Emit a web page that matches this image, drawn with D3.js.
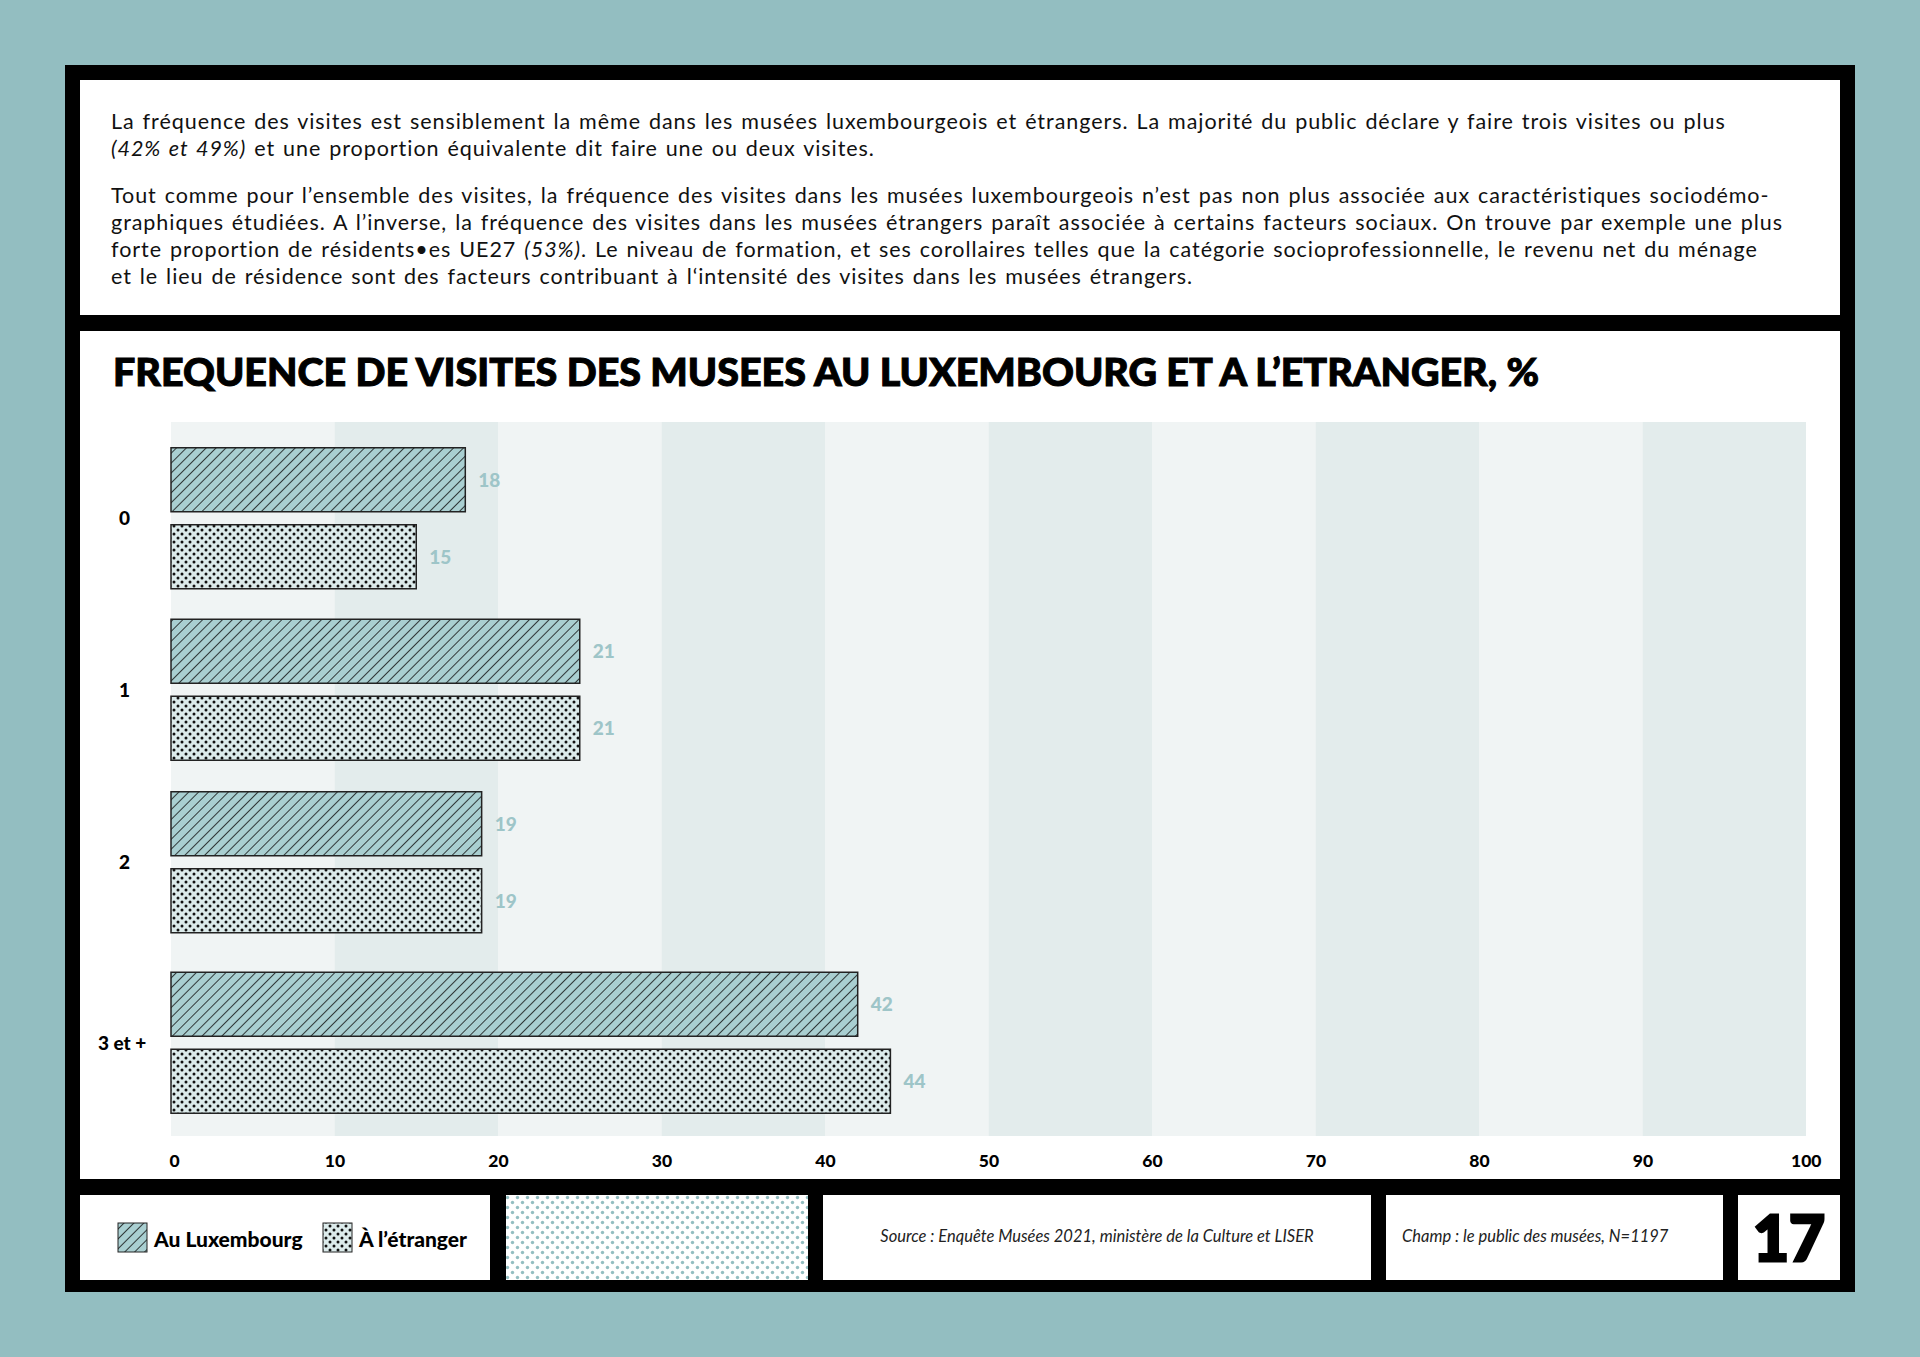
<!DOCTYPE html>
<html><head><meta charset="utf-8">
<script src="https://cdn.jsdelivr.net/npm/d3@7"></script>
<style>body{margin:0;background:#93bec1;}svg{display:block;font-family:Lato,"Open Sans",sans-serif;}</style>
</head><body><svg id="c" width="1920" height="1357"></svg>
<script>
const categories = ["0","1","2","3 et +"];
const series = ["Au Luxembourg","À l’étranger"];
const barLux = [18,25,19,42];      // bar lengths as drawn
const barEtr = [15,25,19,44];
const labelLux = [18,21,19,42];    // printed labels
const labelEtr = [15,21,19,44];
const ticks = [0,10,20,30,40,50,60,70,80,90,100];
const title = "FREQUENCE DE VISITES DES MUSEES AU LUXEMBOURG ET A L’ETRANGER, %";
const para = [
 ["La fréquence des visites est sensiblement la même dans les musées luxembourgeois et étrangers. La majorité du public déclare y faire trois visites ou plus",
  "<i>(42% et 49%)</i> et une proportion équivalente dit faire une ou deux visites."],
 ["Tout comme pour l’ensemble des visites, la fréquence des visites dans les musées luxembourgeois n’est pas non plus associée aux caractéristiques sociodémo-",
  "graphiques étudiées. A l’inverse, la fréquence des visites dans les musées étrangers paraît associée à certains facteurs sociaux. On trouve par exemple une plus",
  "forte proportion de résidents•es UE27 <i>(53%)</i>. Le niveau de formation, et ses corollaires telles que la catégorie socioprofessionnelle, le revenu net du ménage",
  "et le lieu de résidence sont des facteurs contribuant à l‘intensité des visites dans les musées étrangers."]
];
const svg = d3.select("#c");
const defs = svg.append("defs");
const hatch = defs.append("pattern").attr("id","hatch").attr("patternUnits","userSpaceOnUse").attr("width",7).attr("height",7).attr("patternTransform","rotate(45)");
hatch.append("rect").attr("width",7).attr("height",7).attr("fill","#a9cfd1");
hatch.append("line").attr("x1",0).attr("y1",0).attr("x2",0).attr("y2",7).attr("stroke","#111").attr("stroke-width",1.6);
const dots = defs.append("pattern").attr("id","dots").attr("patternUnits","userSpaceOnUse").attr("width",8).attr("height",8);
dots.append("rect").attr("width",8).attr("height",8).attr("fill","#dcebeb");
dots.append("circle").attr("cx",2).attr("cy",2).attr("r",1.5).attr("fill","#111");
dots.append("circle").attr("cx",6).attr("cy",6).attr("r",1.5).attr("fill","#111");
const dots2 = defs.append("pattern").attr("id","dots2").attr("patternUnits","userSpaceOnUse").attr("width",10).attr("height",10);
dots2.append("rect").attr("width",10).attr("height",10).attr("fill","#fff");
dots2.append("circle").attr("cx",2.5).attr("cy",2.5).attr("r",1.7).attr("fill","#93bec1");
dots2.append("circle").attr("cx",7.5).attr("cy",7.5).attr("r",1.7).attr("fill","#93bec1");

svg.append("rect").attr("x",65).attr("y",65).attr("width",1790).attr("height",1227).attr("fill","#000");
const panels=[[80,80,1760,235],[80,331,1760,848],[80,1195,410,85],[506,1195,302,85],[823,1195,548,85],[1386,1195,337,85],[1738,1195,102,85]];
panels.forEach((p,i)=>svg.append("rect").attr("x",p[0]).attr("y",p[1]).attr("width",p[2]).attr("height",p[3]).attr("fill",i===3?"url(#dots2)":"#fff"));

// paragraphs
const ys=[[129,156],[203,230,257,284]];
para.forEach((lines,pi)=>lines.forEach((l,li)=>{
  const t=svg.append("text").attr("x",111).attr("y",ys[pi][li]).attr("font-size",21.5).attr("letter-spacing",0.95).attr("word-spacing",1.5).attr("fill","#111");
  l.split(/(<i>.*?<\/i>)/).forEach(s=>{ if(!s)return; const it=s.startsWith("<i>");
    t.append("tspan").attr("font-style",it?"italic":null).text(it?s.slice(3,-4):s);});
}));
svg.append("text").attr("x",113).attr("y",386).attr("font-size",38).attr("font-weight",900).attr("font-family","Lato").attr("fill","#000")
  .attr("stroke","#000").attr("stroke-width",1).attr("textLength",1426).attr("lengthAdjust","spacingAndGlyphs").text(title);

const x=d3.scaleLinear().domain([0,100]).range([171,1806]);
const y=d3.scaleBand().domain(categories).range([422,1136]).paddingInner(0).paddingOuter(0);
d3.range(10).forEach(i=>svg.append("rect").attr("x",x(i*10)).attr("y",422).attr("width",x(10)-x(0)).attr("height",714).attr("fill",i%2?"#e3ecec":"#f0f4f4"));
const bh=64, gap=13;
const off=[7,0,-6,-4];
categories.forEach((c,i)=>{
  const cy=y(c)+y.bandwidth()/2 + off[i];
  const y1=cy-gap/2-bh, y2=cy+gap/2;
  svg.append("rect").attr("x",x(0)).attr("y",y1).attr("width",x(barLux[i])-x(0)).attr("height",bh).attr("fill","url(#hatch)").attr("stroke","#222").attr("stroke-width",1.5);
  svg.append("rect").attr("x",x(0)).attr("y",y2).attr("width",x(barEtr[i])-x(0)).attr("height",bh).attr("fill","url(#dots)").attr("stroke","#222").attr("stroke-width",1.5);
  svg.append("text").attr("x",x(barLux[i])+13).attr("y",y1+bh/2+7).attr("font-size",19).attr("font-weight",900).attr("fill","#9ec5c8").text(labelLux[i]);
  svg.append("text").attr("x",x(barEtr[i])+13).attr("y",y2+bh/2+7).attr("font-size",19).attr("font-weight",900).attr("fill","#9ec5c8").text(labelEtr[i]);
  svg.append("text").attr("x",c.length>1?98:119).attr("y",cy+7).attr("font-size",19).attr("font-weight",900).attr("fill","#000").text(c);
});
const ax=svg.append("g").attr("transform","translate(0,1167)").call(d3.axisBottom(x).tickValues(ticks).tickSize(0).tickPadding(0));
ax.select(".domain").remove();
ax.selectAll("text").attr("font-size",17.5).attr("font-weight",900).attr("font-family","Lato").attr("fill","#000").attr("dy",0)
  .attr("text-anchor",d=>d===0?"start":(d===100?"end":"middle")).attr("dx",d=>d===0?-2:(d===100?15:0));
svg.append("rect").attr("x",118).attr("y",1223).attr("width",29).attr("height",29).attr("fill","url(#hatch)").attr("stroke","#222");
svg.append("text").attr("x",154).attr("y",1247).attr("font-size",21).attr("font-weight",900).text(series[0]);
svg.append("rect").attr("x",323).attr("y",1223).attr("width",29).attr("height",29).attr("fill","url(#dots)").attr("stroke","#222");
svg.append("text").attr("x",359).attr("y",1247).attr("font-size",21).attr("font-weight",900).text(series[1]);
svg.append("text").attr("x",1097).attr("y",1242).attr("text-anchor","middle").attr("font-size",16.5).attr("font-style","italic").attr("fill","#222").text("Source : Enquête Musées 2021, ministère de la Culture et LISER");
svg.append("text").attr("x",1402).attr("y",1242).attr("font-size",16.5).attr("font-style","italic").attr("fill","#222").text("Champ : le public des musées, N=1197");
svg.append("text").attr("x",1789).attr("y",1261).attr("text-anchor","middle").attr("font-size",62).attr("font-weight",900).attr("font-family","Lato").attr("stroke","#000").attr("stroke-width",3).text("17");
</script></body></html>
